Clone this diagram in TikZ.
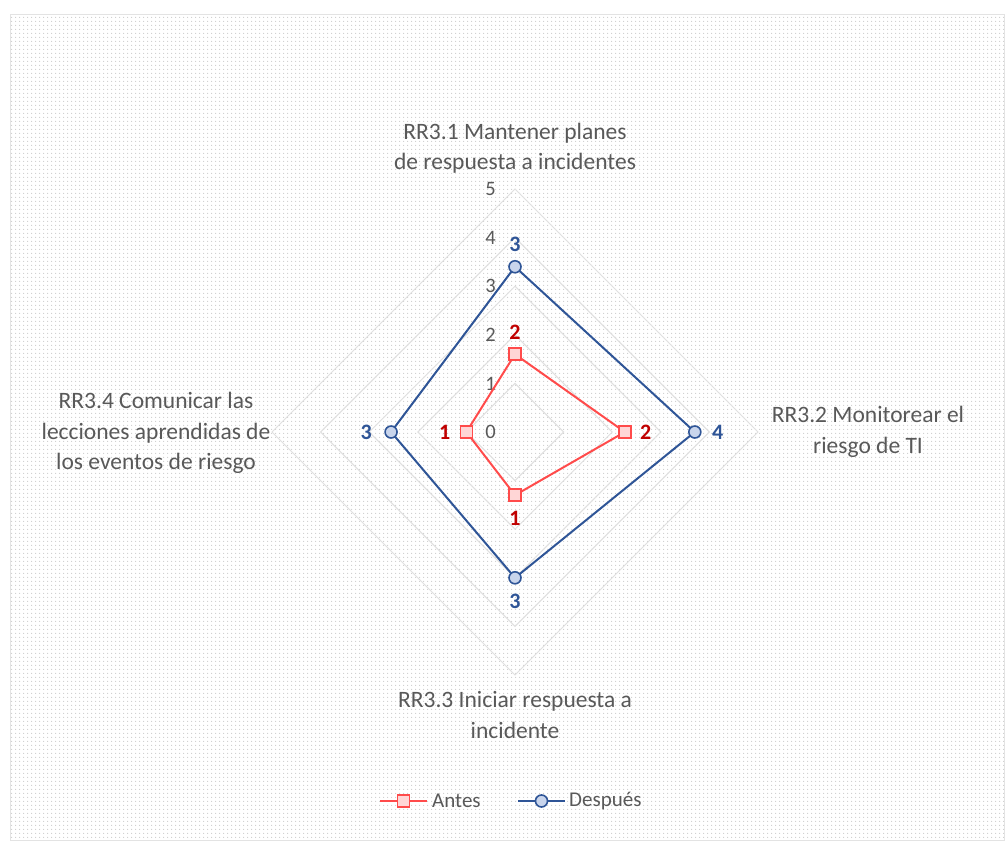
\documentclass[tikz,border=0pt]{standalone}
\usepackage{fontspec}
\setmainfont{Carlito}
\usetikzlibrary{patterns.meta}
\definecolor{txt}{HTML}{595959}
\definecolor{gridc}{HTML}{E0E0E0}
\definecolor{frame}{HTML}{E3E3E3}
\definecolor{blueline}{HTML}{2F5597}
\definecolor{bluefill}{HTML}{C9D5EC}
\definecolor{redline}{HTML}{FF4B4B}
\definecolor{redfill}{HTML}{FFD6D6}
\definecolor{redlabel}{HTML}{C00000}
\definecolor{dotc}{HTML}{CDCDCD}
\tikzset{
  catlabel/.style={text=txt, align=center, font=\fontsize{23.5}{30.5}\selectfont, inner sep=0pt},
  ticklabel/.style={text=txt, font=\fontsize{20.5}{22}\selectfont, anchor=east, inner sep=0pt},
  gridline/.style={draw=gridc, line width=1pt},
  antesline/.style={draw=redline, line width=2pt, line join=round},
  despline/.style={draw=blueline, line width=2pt, line join=round},
  antesmark/.style={draw=redline, fill=redfill, line width=1.6pt, rectangle, minimum size=12pt, inner sep=0pt},
  despmark/.style={draw=blueline, fill=bluefill, line width=1.6pt, circle, minimum size=12pt, inner sep=0pt},
  anteslab/.style={text=redlabel, font=\bfseries\fontsize{22}{24}\selectfont, inner sep=0pt},
  desplab/.style={text=blueline, font=\bfseries\fontsize{22}{24}\selectfont, inner sep=0pt},
  legtext/.style={text=txt, font=\fontsize{21}{24}\selectfont, anchor=west, inner sep=0pt}
}
\begin{document}
\begin{tikzpicture}[x=1pt,y=-1pt]
\useasboundingbox (0,0) rectangle (1005,841);
\fill[white] (0,0) rectangle (1005,841);
% dotted chart area and its frame
\path[pattern={Dots[distance=4pt,radius=0.7pt]}, pattern color=dotc] (10,14) rectangle (1005,841);
\draw[frame, line width=1pt] (10.5,14.5) rectangle (1004.5,840.5);

% radar grid, one unit = 48.6
\def\cx{515}\def\cy{432}\def\u{48.6}
\foreach \k in {1,...,5}{
  \draw[gridline] (\cx,\cy-\u*\k) -- (\cx+\u*\k,\cy) -- (\cx,\cy+\u*\k) -- (\cx-\u*\k,\cy) -- cycle;
}
\foreach \k in {0,...,5}{
  \node[ticklabel] (t\k) at (496,\cy-\u*\k) {\k};
}

% category labels
\node[catlabel] (c1) at (515,148) {RR3.1 Mantener planes\\de respuesta a incidentes};
\node[catlabel] (c2) at (868,432) {RR3.2 Monitorear el\\riesgo de TI};
\node[catlabel] (c3) at (515,715) {RR3.3 Iniciar respuesta a\\incidente};
\node[catlabel] (c4) at (156,433) {RR3.4 Comunicar las\\lecciones aprendidas de\\los eventos de riesgo};

% data points
\coordinate (a1) at (\cx,\cy-\u*1.6);
\coordinate (a2) at (\cx+\u*2.26,\cy);
\coordinate (a3) at (\cx,\cy+\u*1.3);
\coordinate (a4) at (\cx-\u*1.0,\cy);
\coordinate (d1) at (\cx,\cy-\u*3.4);
\coordinate (d2) at (\cx+\u*3.7,\cy);
\coordinate (d3) at (\cx,\cy+\u*3.0);
\coordinate (d4) at (\cx-\u*2.55,\cy);

\draw[despline] (d1) -- (d2) -- (d3) -- (d4) -- cycle;
\draw[antesline] (a1) -- (a2) -- (a3) -- (a4) -- cycle;

\foreach \i in {1,...,4}{
  \node[despmark] (dm\i) at (d\i) {};
  \node[antesmark] (am\i) at (a\i) {};
}

% value labels
\node[desplab, above=15pt] (dl1) at (d1) {3};
\node[desplab, right=17pt] (dl2) at (d2) {4};
\node[desplab, below=16pt] (dl3) at (d3) {3};
\node[desplab, left=19pt] (dl4) at (d4) {3};
\node[anteslab, above=15pt] (al1) at (a1) {2};
\node[anteslab, right=15pt] (al2) at (a2) {2};
\node[anteslab, below=16pt] (al3) at (a3) {1};
\node[anteslab, left=16pt] (al4) at (a4) {1};

% legend
\coordinate (la) at (380,801);
\coordinate (lb) at (427,801);
\draw[antesline] (la) -- (lb);
\node[antesmark] (lam) at (403.5,801) {};
\node[legtext] (lat) at (432,801) {Antes};
\coordinate (lc) at (518,801);
\coordinate (ld) at (565,801);
\draw[despline] (lc) -- (ld);
\node[despmark] (ldm) at (541.5,801) {};
\node[legtext] (ldt) at (569,801) {Después};
\end{tikzpicture}
\end{document}
